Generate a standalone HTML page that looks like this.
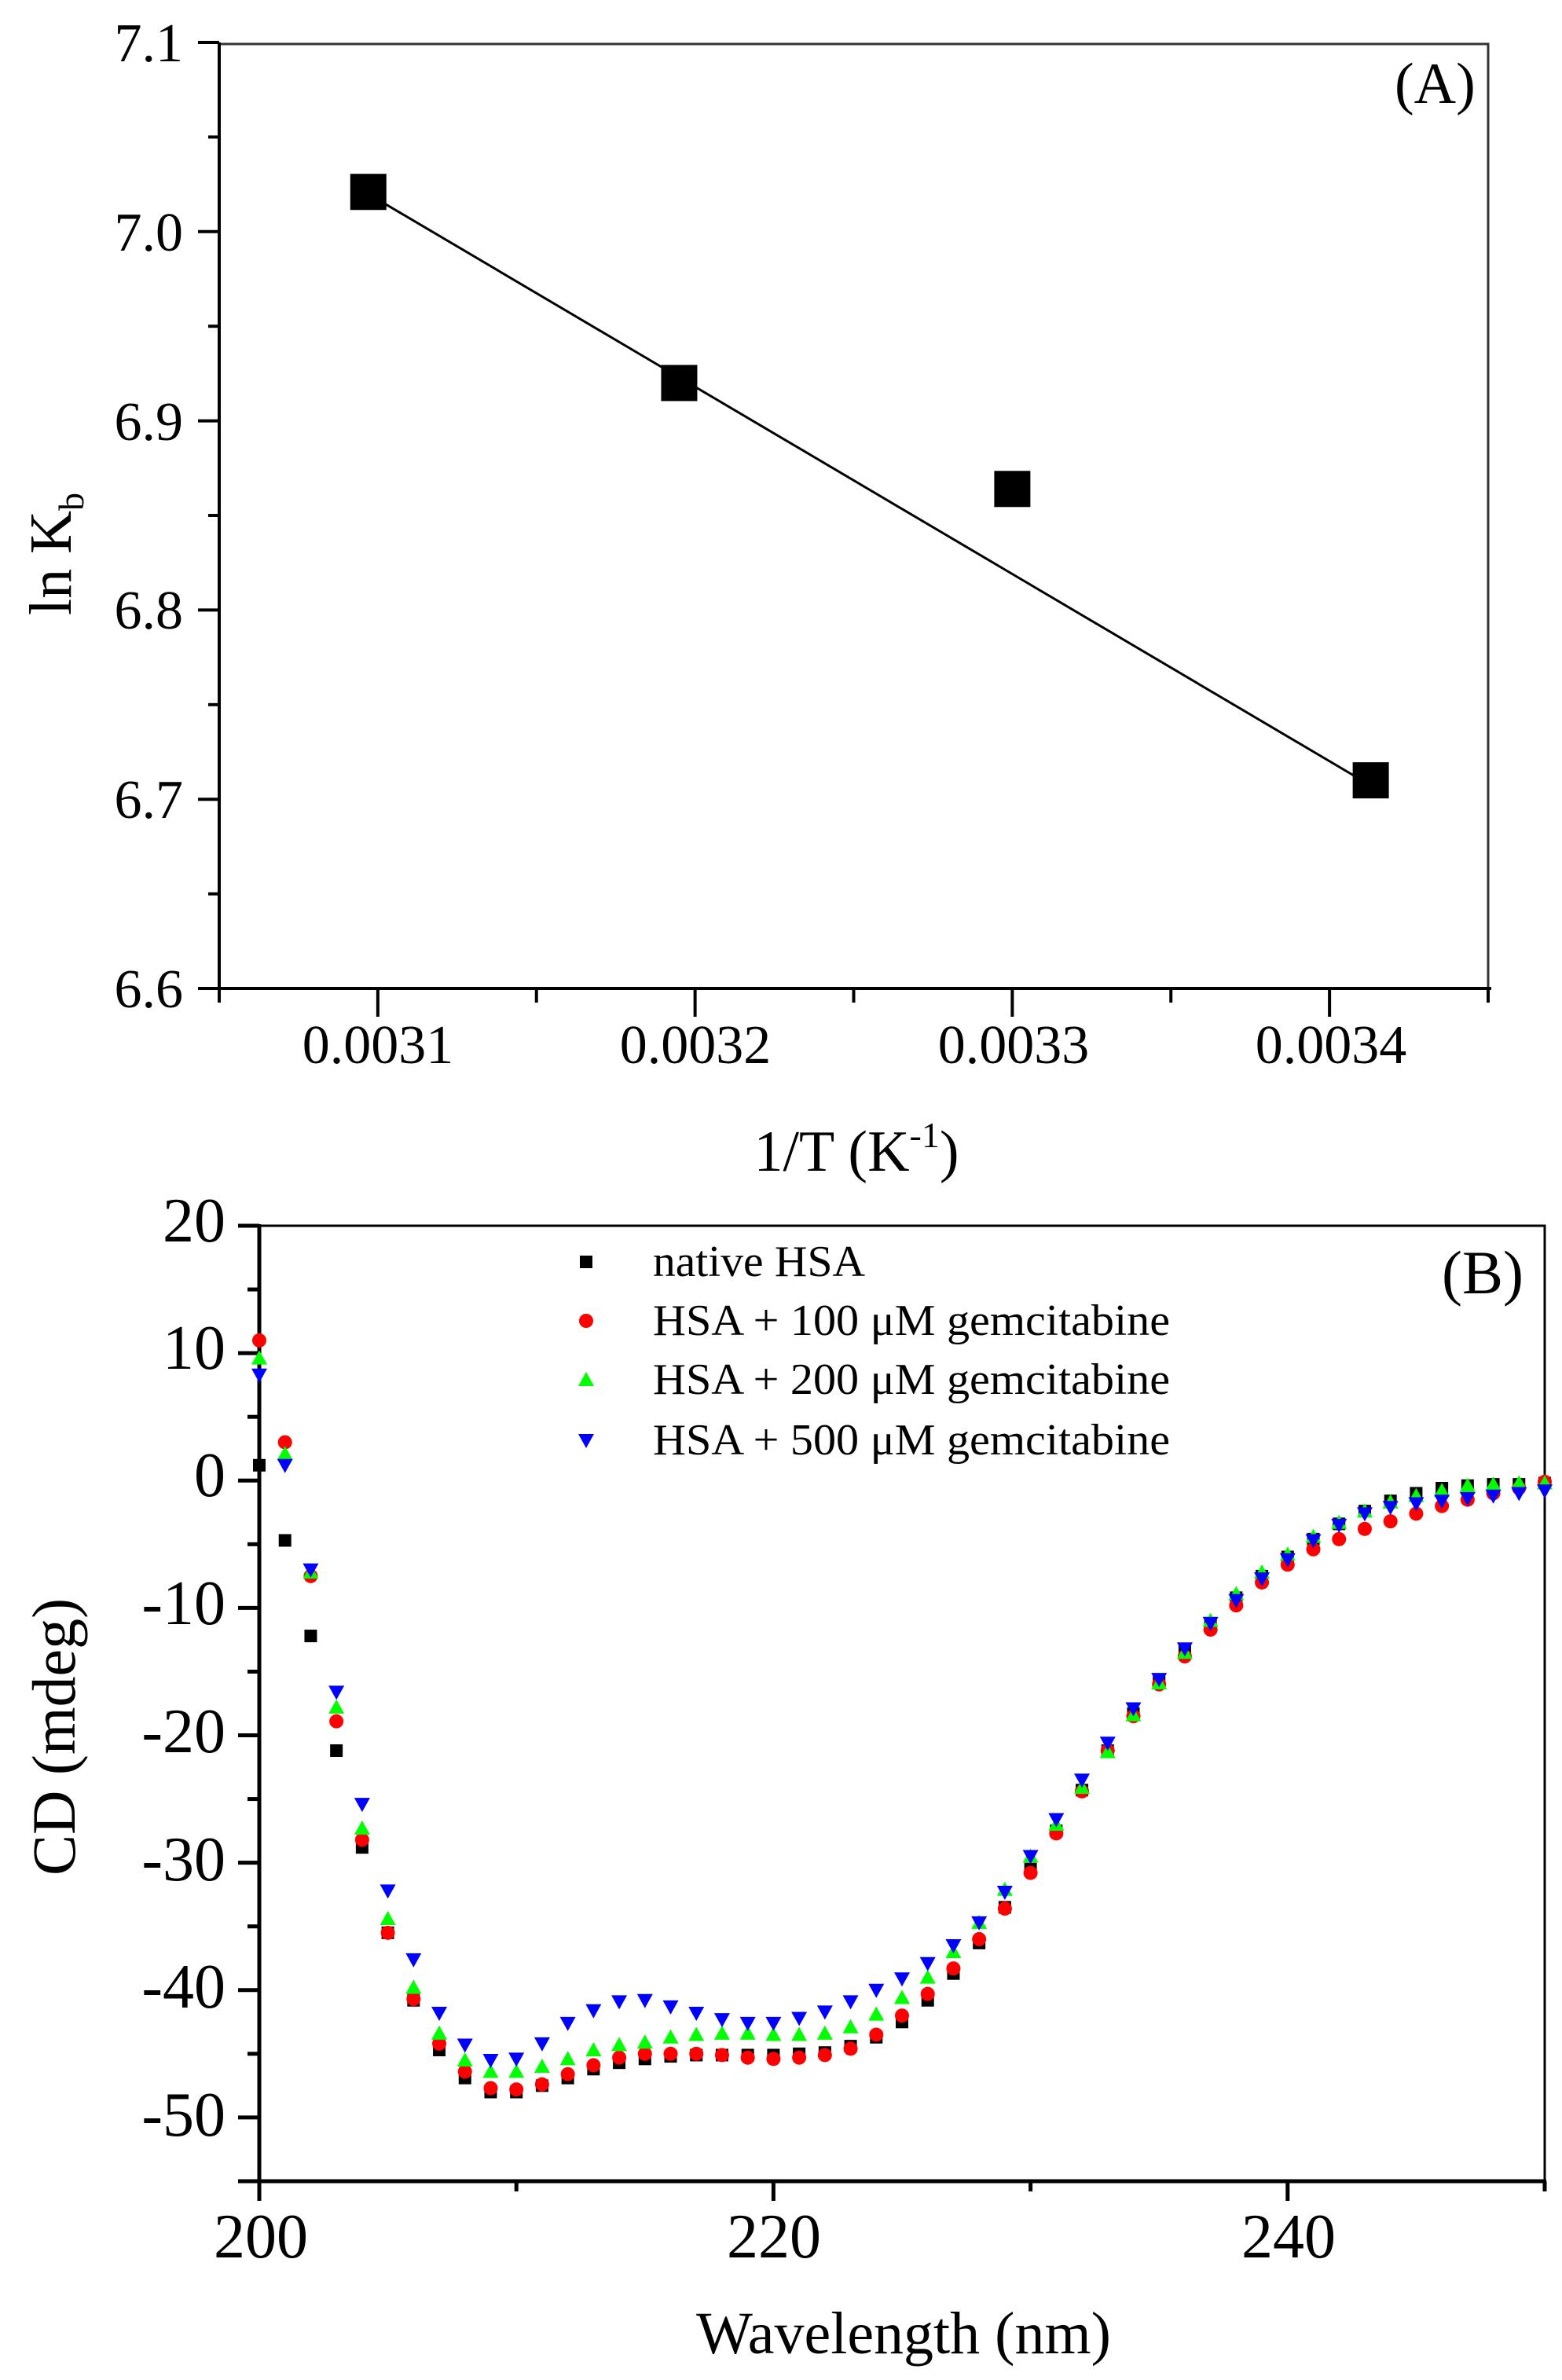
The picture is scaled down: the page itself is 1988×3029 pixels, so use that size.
<!DOCTYPE html>
<html><head><meta charset="utf-8">
<style>html,body{margin:0;padding:0;background:#fff}svg{display:block}
text{font-family:"Liberation Serif","Times New Roman",serif;fill:#000}</style></head>
<body>
<svg id="s" width="1988" height="3029" viewBox="0 0 1988 3029" xmlns="http://www.w3.org/2000/svg" font-family="Liberation Serif, serif">
<rect width="1988" height="3029" fill="#fff"/>
<g id="A">
<rect x="279" y="56" width="1615" height="1202" fill="none" stroke="#333" stroke-width="3"/>
<line x1="279" y1="54" x2="279" y2="1260" stroke="#000" stroke-width="4"/>
<line x1="252" y1="1258" x2="1898" y2="1258" stroke="#000" stroke-width="4"/>
<g font-size="70" text-anchor="end">
<text x="233" y="78">7.1</text>
<text x="233" y="319">7.0</text>
<text x="233" y="560">6.9</text>
<text x="233" y="800">6.8</text>
<text x="233" y="1041">6.7</text>
<text x="233" y="1282">6.6</text>
</g>
<g font-size="70" text-anchor="middle">
<text x="481" y="1353">0.0031</text>
<text x="885" y="1353">0.0032</text>
<text x="1290" y="1353">0.0033</text>
<text x="1694" y="1353">0.0034</text>
</g>
<text x="1775" y="131" font-size="74">(A)</text>
<text x="1090" y="1490" font-size="74" text-anchor="middle">1/T (K<tspan font-size="46" dy="-30">-1</tspan><tspan dy="30">)</tspan></text>
<text transform="translate(90,783) rotate(-90)" font-size="76">ln K<tspan font-size="46" dy="16">b</tspan></text>
<line x1="469" y1="247" x2="1745" y2="1000" stroke="#000" stroke-width="3"/>
</g>
<g id="B">
<rect x="330" y="1560" width="1636" height="1216" fill="none" stroke="#000" stroke-width="3"/>
<line x1="330" y1="1558" x2="330" y2="2779" stroke="#000" stroke-width="5"/>
<line x1="303" y1="2776" x2="1968" y2="2776" stroke="#000" stroke-width="5"/>
<g font-size="80" text-anchor="end">
<text x="287" y="1580">20</text>
<text x="287" y="1742">10</text>
<text x="287" y="1904">0</text>
<text x="287" y="2067">-10</text>
<text x="287" y="2230">-20</text>
<text x="287" y="2393">-30</text>
<text x="287" y="2555">-40</text>
<text x="287" y="2718">-50</text>
</g>
<g font-size="80" text-anchor="middle">
<text x="332" y="2873">200</text>
<text x="985" y="2873">220</text>
<text x="1640" y="2873">240</text>
</g>
<text x="1150" y="2995" font-size="76" text-anchor="middle">Wavelength (nm)</text>
<text transform="translate(95,2387) rotate(-90)" font-size="78">CD (mdeg)</text>
<text x="1835" y="1646" font-size="78">(B)</text>
<g font-size="56">
<text x="831" y="1624" textLength="270" lengthAdjust="spacingAndGlyphs">native HSA</text>
<text x="831" y="1699" textLength="658" lengthAdjust="spacingAndGlyphs">HSA + 100 μM gemcitabine</text>
<text x="831" y="1774" textLength="658" lengthAdjust="spacingAndGlyphs">HSA + 200 μM gemcitabine</text>
<text x="831" y="1851" textLength="658" lengthAdjust="spacingAndGlyphs">HSA + 500 μM gemcitabine</text>
</g>
</g>
<g id="dyn"></g>
</svg>
<script>
(function(){
var NS="http://www.w3.org/2000/svg",g=document.getElementById("dyn");
function el(t,a){var e=document.createElementNS(NS,t);for(var k in a)e.setAttribute(k,a[k]);g.appendChild(e);return e;}
function ax(v){return 279+(v-0.00305)/0.0004*1615;}
function ay(v){return 54+(7.1-v)/0.5*1204;}
for(var i=0;i<=8;i++){var x=ax(0.00305+i*0.00005);var maj=(i%2==1);el("line",{x1:x,y1:1258,x2:x,y2:1258+(maj?36:18),stroke:"#000","stroke-width":4});}
for(var i=0;i<=10;i++){var y=ay(6.6+i*0.05);var maj=(i%2==0);el("line",{x1:279,y1:y,x2:279-(maj?27:14),y2:y,stroke:"#000","stroke-width":4});}
[[0.003097,7.021],[0.003195,6.92],[0.0033,6.864],[0.003413,6.71]].forEach(function(p){var x=ax(p[0]),y=ay(p[1]);el("rect",{x:x-23,y:y-23,width:46,height:46,fill:"#000"});});
function bx(v){return 330+(v-200)/50*1636;}
function by(v){return 1560+(20-v)*16.213;}
for(var v=200;v<=250;v+=10){var x=bx(v);var maj=(v%20==0);el("line",{x1:x,y1:2776,x2:x,y2:2776+(maj?25:13),stroke:"#000","stroke-width":5});}
for(var v=-55;v<=20;v+=5){var y=by(v);var maj=(v%10==0);el("line",{x1:330,y1:y,x2:330-(maj?27:15),y2:y,stroke:"#000","stroke-width":5});}
var K=[1.2,-4.7,-12.2,-21.2,-28.8,-35.5,-40.8,-44.7,-46.9,-48,-48,-47.5,-46.9,-46.2,-45.7,-45.4,-45.2,-45.1,-45.1,-45.1,-45.1,-45,-44.9,-44.4,-43.7,-42.5,-40.8,-38.7,-36.3,-33.5,-30.5,-27.5,-24.3,-21.2,-18.3,-15.8,-13.3,-11.2,-9.2,-7.5,-6,-4.6,-3.4,-2.4,-1.6,-1,-0.6,-0.4,-0.3,-0.3,-0.2];
var R=[11,3,-7.5,-18.9,-28.2,-35.5,-40.7,-44.2,-46.4,-47.7,-47.8,-47.4,-46.6,-45.9,-45.3,-45,-45,-45,-45.1,-45.3,-45.4,-45.3,-45.1,-44.6,-43.5,-42,-40.3,-38.3,-36,-33.6,-30.8,-27.7,-24.4,-21.2,-18.5,-16,-13.8,-11.7,-9.8,-8,-6.6,-5.4,-4.6,-3.8,-3.2,-2.6,-2,-1.5,-1,-0.6,-0.1];
var G=[9.6,2.1,-7.2,-17.8,-27.3,-34.4,-39.8,-43.4,-45.5,-46.4,-46.4,-46,-45.4,-44.7,-44.3,-44.1,-43.7,-43.5,-43.4,-43.4,-43.5,-43.5,-43.4,-42.9,-41.9,-40.6,-39,-37,-34.7,-32.1,-29.5,-27,-24.1,-21.3,-18.4,-15.9,-13.5,-11,-8.9,-7.2,-5.8,-4.4,-3.3,-2.4,-1.7,-1.2,-0.8,-0.4,-0.3,-0.2,-0.2];
var B=[8.3,1.2,-7,-16.6,-25.4,-32.2,-37.6,-41.8,-44.3,-45.5,-45.4,-44.2,-42.6,-41.6,-40.9,-40.8,-41.3,-41.8,-42.3,-42.6,-42.6,-42.2,-41.7,-40.9,-40,-39.1,-37.9,-36.5,-34.7,-32.3,-29.5,-26.6,-23.5,-20.6,-17.9,-15.6,-13.2,-11.2,-9.4,-7.7,-6.2,-4.7,-3.5,-2.6,-2.1,-1.8,-1.6,-1.4,-1.2,-1,-0.8];
function sq(x,y){el("rect",{x:x-8,y:y-8,width:16,height:16,fill:"#000"});}
function ci(x,y){el("circle",{cx:x,cy:y,r:9,fill:"#ff0000"});}
function tu(x,y){el("polygon",{points:(x-10)+","+(y+8)+" "+(x+10)+","+(y+8)+" "+x+","+(y-10),fill:"#00ff00"});}
function td(x,y){el("polygon",{points:(x-10)+","+(y-8)+" "+(x+10)+","+(y-8)+" "+x+","+(y+10),fill:"#0000ff"});}
for(var i=0;i<=50;i++){var x=bx(200+i);sq(x,by(K[i]));ci(x,by(R[i]));tu(x,by(G[i]));td(x,by(B[i]));}
sq(746,1606);ci(746,1681);tu(746,1756);td(746,1833);
})();
</script>
</body></html>
